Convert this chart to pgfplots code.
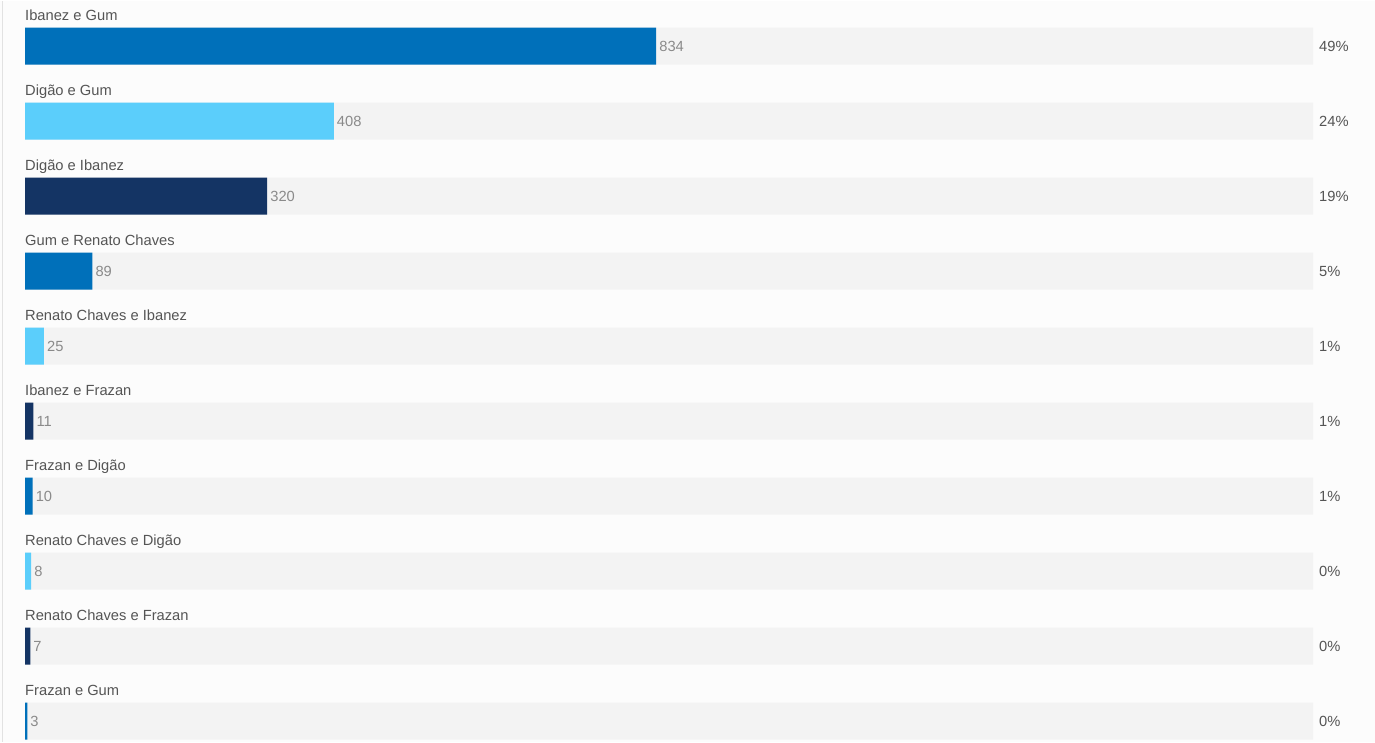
\documentclass[border=0pt]{standalone}
\usepackage{fontspec}
\setmainfont{Liberation Sans}
\usepackage{pgfplots}
\usepackage{pgfplotstable}
\pgfplotsset{compat=1.18}
\definecolor{bgc}{HTML}{FCFCFC}
\definecolor{trackc}{HTML}{F3F3F3}
\definecolor{cA}{HTML}{0070BA}
\definecolor{cB}{HTML}{5BCEFB}
\definecolor{cC}{HTML}{143464}
\definecolor{labc}{HTML}{555555}
\definecolor{valc}{HTML}{8A8A8A}
\definecolor{borderc}{HTML}{E2E2E2}
\pgfplotstableread[col sep=comma]{
row,name,pct
0,Ibanez e Gum,49
1,Digão e Gum,24
2,Digão e Ibanez,19
3,Gum e Renato Chaves,5
4,Renato Chaves e Ibanez,1
5,Ibanez e Frazan,1
6,Frazan e Digão,1
7,Renato Chaves e Digão,0
8,Renato Chaves e Frazan,0
9,Frazan e Gum,0
}\labeltab
\begin{document}
\begin{tikzpicture}
\fill[bgc] (-25pt,0pt) rectangle (1350pt,741pt);
\draw[borderc, line width=1.2pt] (-22.5pt,0pt) -- (-22.5pt,741pt);
\begin{axis}[
  scale only axis, width=1288pt, height=741pt,
  xmin=0, xmax=1702, ymin=-0.6067, ymax=9.2733, y dir=reverse,
  axis lines=none, clip=false,
  /pgf/number format/assume math mode=true,
  xbar, bar width=37pt, bar shift=0pt,
  every node near coord/.style={font=\fontsize{14.7}{17}\selectfont, text=valc, anchor=west, inner sep=0pt, xshift=3pt},
]
% tracks
\addplot[xbar, fill=trackc, draw=none] coordinates {(1702,0) (1702,1) (1702,2) (1702,3) (1702,4) (1702,5) (1702,6) (1702,7) (1702,8) (1702,9)};
% bars
\addplot[xbar, fill=cA, draw=none, nodes near coords, point meta=x] coordinates {(834,0) (89,3) (10,6) (3,9)};
\addplot[xbar, fill=cB, draw=none, nodes near coords, point meta=x] coordinates {(408,1) (25,4) (8,7)};
\addplot[xbar, fill=cC, draw=none, nodes near coords, point meta=x] coordinates {(320,2) (11,5) (7,8)};
% category labels
\addplot[draw=none, mark=none, fill=none, nodes near coords, point meta=explicit symbolic,
  nodes near coords style={text=labc, anchor=base west, xshift=-3pt, yshift=25.2pt}]
  table[x expr=0, y=row, meta=name] {\labeltab};
% percentages
\addplot[draw=none, mark=none, fill=none, nodes near coords={\pgfplotspointmeta\%}, point meta=explicit symbolic,
  nodes near coords style={text=labc, anchor=west, xshift=3pt}]
  table[x expr=1702, y=row, meta=pct] {\labeltab};
\end{axis}
\end{tikzpicture}
\end{document}
